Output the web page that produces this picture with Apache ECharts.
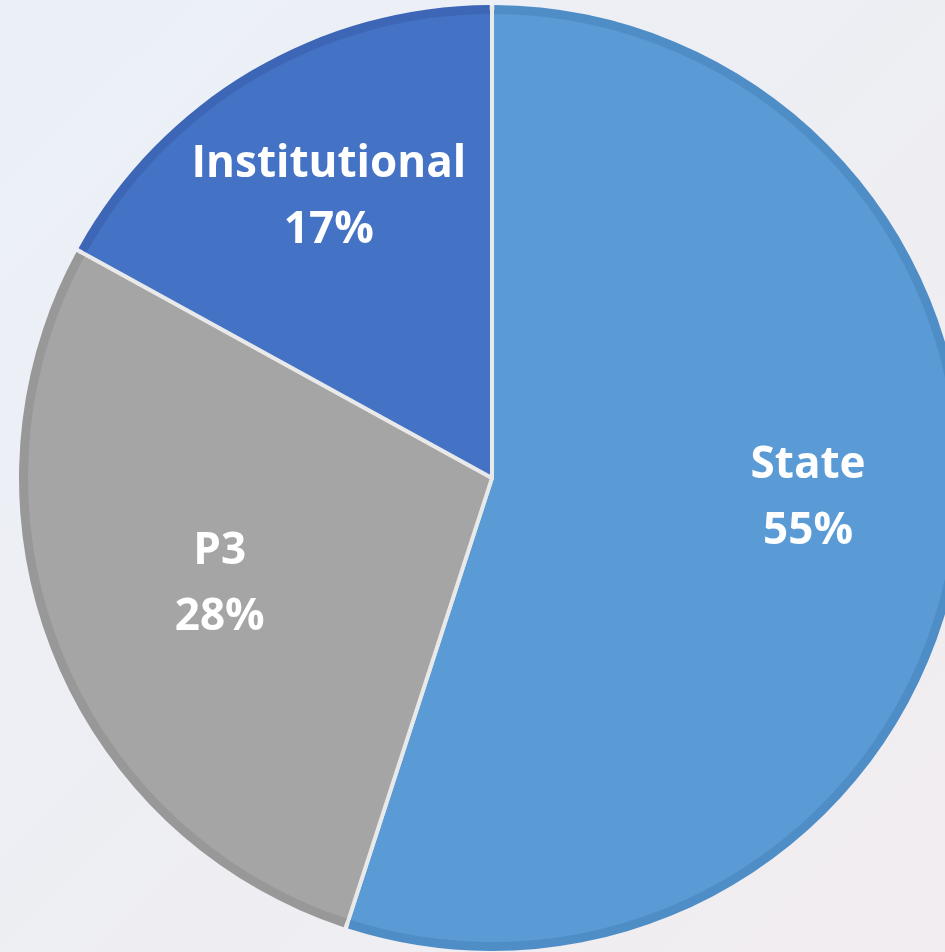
<!DOCTYPE html>
<html><head><meta charset="utf-8">
<script src="https://cdn.jsdelivr.net/npm/echarts@6/dist/echarts.min.js"></script>
<style>html,body{margin:0;padding:0;}#c{width:945px;height:952px;}</style>
</head><body><div id="c"></div>
<script>
const categories = ['State', 'P3', 'Institutional'];
const values = [55, 28, 17];
const fillColors = ['#5b9bd5', '#a5a5a5', '#4472c4'];
const edgeColors = ['#4f8dc7', '#989898', '#3d67b6'];
const labelOffsets = [[81, -17], [-51, 19], [-42, -76]];

const chart = echarts.init(document.getElementById('c'));
const C = [492, 478], R = 470;
chart.setOption({
  backgroundColor: {
    type: 'linear', x: 0, y: 0, x2: 1, y2: 1,
    colorStops: [{offset: 0, color: '#ebf0f8'}, {offset: 0.6, color: '#eeeef2'}, {offset: 1, color: '#f2edf0'}]
  },
  animation: false,
  series: [
    {
      type: 'pie', center: C, radius: [0, R], startAngle: 90, clockwise: true,
      sort: null, z: 2,
      data: categories.map((n, i) => ({
        name: n, value: values[i],
        itemStyle: {color: fillColors[i]},
        label: {offset: labelOffsets[i]}
      })),
      itemStyle: {borderColor: '#e9e9e9', borderWidth: 4},
      label: {
        show: true, position: 'inside',
        formatter: p => p.name + '\n' + Math.round(p.percent) + '%',
        color: '#ffffff', fontFamily: 'Open Sans', fontWeight: 'bold',
        fontSize: 44, lineHeight: 66
      },
      labelLine: {show: false},
      emphasis: {disabled: true}
    },
    {
      type: 'pie', center: C, radius: [R - 6, R + 3], startAngle: 90, clockwise: true,
      sort: null, silent: true, z: 3, padAngle: 0.55,
      data: categories.map((n, i) => ({
        name: n, value: values[i], itemStyle: {color: edgeColors[i]}
      })),
      itemStyle: {borderWidth: 0},
      label: {show: false}, labelLine: {show: false},
      emphasis: {disabled: true}
    }
  ]
});
</script></body></html>
